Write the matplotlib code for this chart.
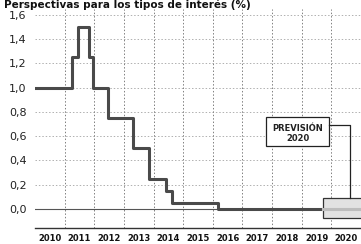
import matplotlib
matplotlib.use("Agg")
import matplotlib.pyplot as plt
from matplotlib.patches import Rectangle

# step dates (fraction of year) and rate levels (%)
dates = [2010.0, 2011.26, 2011.46, 2011.83, 2011.95, 2012.48, 2013.30, 2013.83, 2014.43, 2014.63, 2016.18, 2019.9]
rates = [1.0, 1.25, 1.5, 1.25, 1.0, 0.75, 0.5, 0.25, 0.15, 0.05, 0.0, 0.0]
forecast_start = 2019.73
years = list(range(2010, 2021))
yticks = [0.0, 0.2, 0.4, 0.6, 0.8, 1.0, 1.2, 1.4, 1.6]
ylabels = ["0,0", "0,2", "0,4", "0,6", "0,8", "1,0", "1,2", "1,4", "1,6"]
title = "Perspectivas para los tipos de interés (%)"

fig = plt.figure(figsize=(3.61, 2.44), dpi=100)
ax = fig.add_axes([35 / 361, 16 / 244, 326 / 361, 0.898])
ax.set_xlim(2010, 2021)
ax.set_ylim(-0.157, 1.65)

# grid
for y in yticks[1:]:
    ax.axhline(y, color="#b0b0b0", lw=0.7, ls=(0, (1.5, 2)), zorder=1)
for x in years[1:] + [2021]:
    ax.axvline(x, color="#808080", lw=0.7, ls=(0, (1.5, 2)), zorder=1)
ax.axhline(0.0, color="#555555", lw=0.8, zorder=2)

# rate line
ax.step(dates, rates, where="post", color="#4a4a4a", lw=2.2, zorder=3)

# forecast area
ax.add_patch(Rectangle((forecast_start, -0.074), 2.0, 0.164, facecolor="#e2e2e2",
                       edgecolor="#333333", lw=0.9, zorder=4))
ax.plot([forecast_start, 2021], [0.0, 0.0], color="#bdbdbd", lw=2.2, zorder=5)

# callout
ax.add_patch(Rectangle((2017.8, 0.52), 2.13, 0.24, facecolor="white",
                       edgecolor="#222222", lw=0.9, zorder=6))
ax.text(2018.865, 0.665, "PREVISIÓN", ha="center", va="center", fontsize=6,
        fontweight="bold", color="#222222", zorder=7)
ax.text(2018.865, 0.585, "2020", ha="center", va="center", fontsize=6,
        fontweight="bold", color="#222222", zorder=7)
ax.plot([2019.93, 2020.64, 2020.64], [0.69, 0.69, 0.09], color="#222222", lw=0.9, zorder=6)

# axes styling
for s in ["top", "right", "left"]:
    ax.spines[s].set_visible(False)
ax.spines["bottom"].set_color("#333333")
ax.spines["bottom"].set_linewidth(1.0)
ax.set_yticks(yticks)
ax.set_yticklabels(ylabels, fontsize=8, color="#222222")
ax.set_xticks([y + 0.5 for y in years])
ax.set_xticklabels([str(y) for y in years], fontsize=6, fontweight="bold", color="#111111")
ax.tick_params(length=0, pad=4)
ax.tick_params(axis="y", pad=6)

fig.text(0.01, 1.0, title, ha="left", va="top", fontsize=7.5, fontweight="bold", color="#111111")

fig.savefig("out.png", dpi=100)
